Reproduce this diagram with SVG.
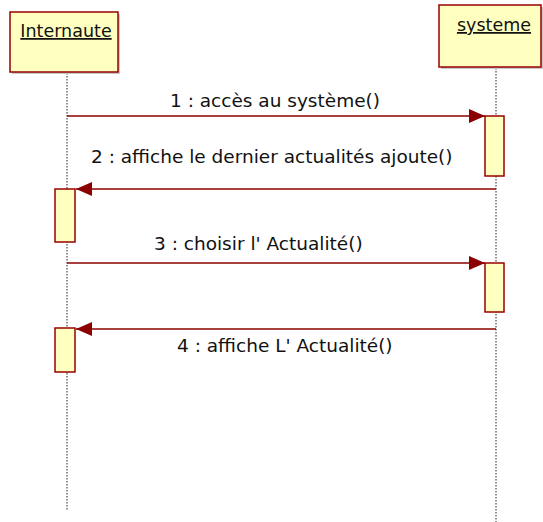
<svg xmlns="http://www.w3.org/2000/svg" width="543" height="522" viewBox="0 0 543 522">
  <style>
    .obj { fill: #ffffc0; stroke: #990000; stroke-width: 1.5; }
    .shadow { fill: #c8c8c8; }
    .life { stroke: #222222; stroke-width: 1; stroke-dasharray: 1.5 1.5; fill: none; }
    .msg { stroke: #8b0000; stroke-width: 1.3; fill: none; }
    .lbl { font-family: "DejaVu Sans", Tahoma, sans-serif; font-size: 18.5px; fill: #111111; }
    .name { font-family: "DejaVu Sans", Tahoma, sans-serif; font-size: 17.5px; fill: #111111; text-decoration: underline; }
  </style>
  <defs>
    <marker id="head" markerWidth="16" markerHeight="14" refX="16" refY="7" orient="auto" markerUnits="userSpaceOnUse">
      <path d="M0,0 L16,7 L0,14 Z" fill="#8b0000"/>
    </marker>
  </defs>

  <!-- lifelines -->
  <g id="lifelines">
    <line class="life" x1="67" y1="73" x2="67" y2="511"/>
    <line class="life" x1="496" y1="68" x2="496" y2="522"/>
  </g>

  <!-- object Internaute -->
  <g id="internaute">
    <rect class="shadow" x="12" y="14" width="108" height="60"/>
    <rect class="obj" x="10" y="12" width="108" height="60"/>
    <text class="name" x="66" y="37" text-anchor="middle">Internaute</text>
  </g>

  <!-- object systeme -->
  <g id="systeme">
    <rect class="shadow" x="441" y="7" width="102" height="62"/>
    <rect class="obj" x="439" y="5" width="102" height="62"/>
    <text class="name" x="494" y="31" text-anchor="middle">systeme</text>
  </g>

  <!-- activation bars -->
  <g id="act-internaute-1"><rect class="obj" x="55" y="189" width="20" height="53"/></g>
  <g id="act-internaute-2"><rect class="obj" x="55" y="328" width="20" height="44"/></g>
  <g id="act-systeme-1"><rect class="obj" x="485" y="116" width="19" height="60"/></g>
  <g id="act-systeme-2"><rect class="obj" x="485" y="263" width="19" height="49"/></g>

  <!-- messages -->
  <g id="connectors">
    <line class="msg" x1="67" y1="116" x2="485" y2="116" marker-end="url(#head)"/>
    <line class="msg" x1="496" y1="189" x2="76" y2="189" marker-end="url(#head)"/>
    <line class="msg" x1="67" y1="263" x2="485" y2="263" marker-end="url(#head)"/>
    <line class="msg" x1="496" y1="329" x2="76" y2="329" marker-end="url(#head)"/>
  </g>

  <g id="labels">
    <text class="lbl" x="170" y="107">1 : accès au système()</text>
    <text class="lbl" x="91" y="163">2 : affiche le dernier actualités ajoute()</text>
    <text class="lbl" x="154" y="250">3 : choisir l' Actualité()</text>
    <text class="lbl" x="177" y="352">4 : affiche L' Actualité()</text>
  </g>
</svg>
